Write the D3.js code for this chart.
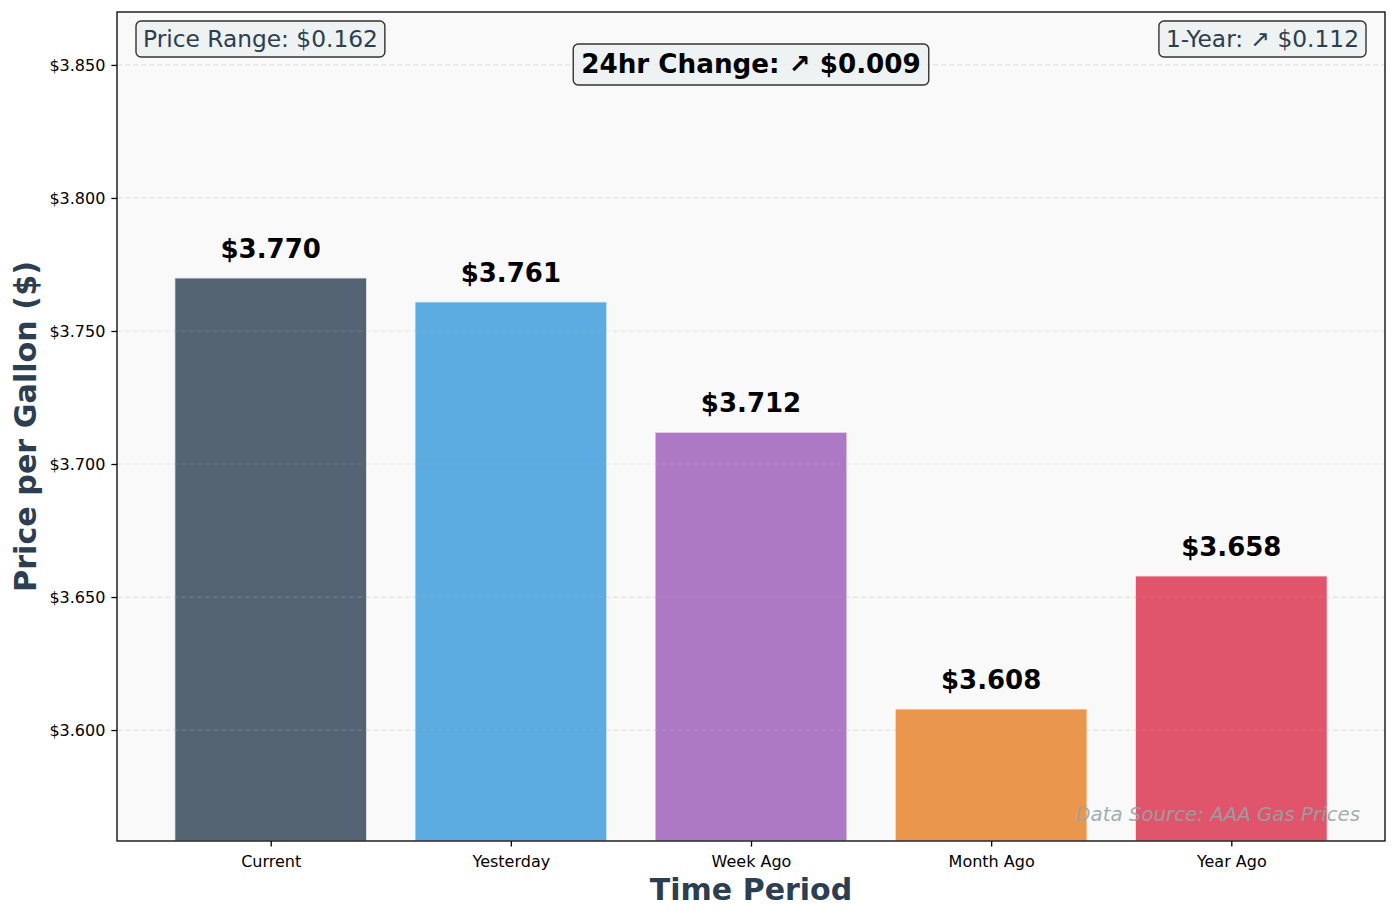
<!DOCTYPE html>
<html>
<head>
<meta charset="utf-8">
<script src="https://cdn.jsdelivr.net/npm/d3@7"></script>
<style>
  body { margin: 0; background: #fff; }
  text { font-family: 'DejaVu Sans', sans-serif; }
</style>
</head>
<body>
<div id="chart"></div>
<script>
const periods = ['Current', 'Yesterday', 'Week Ago', 'Month Ago', 'Year Ago']
const prices = [3.770, 3.761, 3.712, 3.608, 3.658]
const barColors = ['#2c3e50', '#3498db', '#9b59b6', '#e67e22', '#da2a48']
const yTicks = [3.600, 3.650, 3.700, 3.750, 3.800, 3.850]

const width = 1397
const height = 918
const margin = { top: 12, right: 12, bottom: 77, left: 117 }
const plotW = width - margin.left - margin.right
const plotH = height - margin.top - margin.bottom

const svg = d3
  .select('#chart')
  .append('svg')
  .attr('width', width)
  .attr('height', height)

const g = svg.append('g').attr('transform', `translate(${margin.left},${margin.top})`)

// x scale in matplotlib-like bar units
const x = d3.scaleLinear().domain([-0.64, 4.64]).range([0, plotW])
const barW = x(0.4) - x(-0.4)
const y = d3.scaleLinear().domain([3.5583, 3.8699]).range([plotH, 0])

g.append('rect')
  .attr('width', plotW)
  .attr('height', plotH)
  .attr('fill', '#f9f9f9')

// bars
g.selectAll('.bar')
  .data(prices)
  .join('rect')
  .attr('class', 'bar')
  .attr('x', (d, i) => x(i) - barW / 2)
  .attr('y', (d) => y(d))
  .attr('width', barW)
  .attr('height', (d) => plotH - y(d))
  .attr('fill', (d, i) => barColors[i])
  .attr('fill-opacity', 0.8)
  .attr('stroke', '#ffffff')
  .attr('stroke-opacity', 0.7)
  .attr('stroke-width', 1.5)

// grid on top of bars
g.selectAll('.grid')
  .data(yTicks)
  .join('line')
  .attr('class', 'grid')
  .attr('x1', 0)
  .attr('x2', plotW)
  .attr('y1', (d) => y(d))
  .attr('y2', (d) => y(d))
  .attr('stroke', '#b0b0b0')
  .attr('stroke-opacity', 0.3)
  .attr('stroke-dasharray', '5,3')
  .attr('stroke-width', 1.2)

// value labels
g.selectAll('.val')
  .data(prices)
  .join('text')
  .attr('class', 'val')
  .attr('x', (d, i) => x(i))
  .attr('y', (d) => y(d) - 20)
  .attr('text-anchor', 'middle')
  .style('font-size', '26px')
  .style('font-weight', 'bold')
  .attr('fill', '#000')
  .text((d) => `$${d.toFixed(3)}`)

// axes
const xAxis = g
  .append('g')
  .attr('transform', `translate(0,${plotH})`)
  .call(
    d3.axisBottom(x)
      .tickValues(d3.range(periods.length))
      .tickFormat((i) => periods[i])
      .tickSizeOuter(0)
      .tickSize(5.6)
      .tickPadding(9)
  )
const yAxis = g.append('g').call(
  d3.axisLeft(y)
    .tickValues(yTicks)
    .tickFormat((d) => `$${d.toFixed(3)}`)
    .tickSizeOuter(0)
    .tickSize(5.6)
    .tickPadding(6)
)
;[xAxis, yAxis].forEach((a) => {
  a.select('.domain').remove()
  a.selectAll('line').attr('stroke', '#000').attr('stroke-width', 1.3)
  a.selectAll('text')
    .style('font-size', '16px')
    .style('font-family', "'DejaVu Sans', sans-serif")
    .attr('fill', '#000')
})

// frame
g.append('rect')
  .attr('width', plotW)
  .attr('height', plotH)
  .attr('fill', 'none')
  .attr('stroke', '#000')
  .attr('stroke-width', 1.3)

// axis labels
svg.append('text')
  .attr('x', margin.left + plotW / 2)
  .attr('y', 900)
  .attr('text-anchor', 'middle')
  .style('font-size', '30px')
  .style('font-weight', 'bold')
  .attr('fill', '#2c3e50')
  .text('Time Period')

svg.append('text')
  .attr('transform', `translate(36,${margin.top + plotH / 2}) rotate(-90)`)
  .attr('text-anchor', 'middle')
  .style('font-size', '30.2px')
  .style('font-weight', 'bold')
  .attr('fill', '#2c3e50')
  .text('Price per Gallon ($)')

// annotation boxes
function textBox(tx, ty, anchor, label, size, bold, color, pad) {
  const t = g.append('text')
    .attr('x', tx)
    .attr('y', ty)
    .attr('text-anchor', anchor)
    .style('font-size', size + 'px')
    .style('font-weight', bold ? 'bold' : 'normal')
    .attr('fill', color)
    .text(label)
  const b = t.node().getBBox()
  g.insert('rect', () => t.node())
    .attr('x', b.x - pad)
    .attr('y', b.y - pad + 3)
    .attr('width', b.width + pad * 2)
    .attr('height', b.height + pad * 2 - 5)
    .attr('rx', 5)
    .attr('fill', '#ecf0f1')
    .attr('fill-opacity', 0.8)
    .attr('stroke', '#333')
    .attr('stroke-width', 1.4)
}

const rangeVal = d3.max(prices) - d3.min(prices)
const dayChange = prices[0] - prices[1]
const yearChange = prices[0] - prices[4]

textBox(26, 35, 'start', `Price Range: $${rangeVal.toFixed(3)}`, 23.3, false, '#2c3e50', 7)
textBox(plotW - 26, 35, 'end', `1-Year: ↗ $${yearChange.toFixed(3)}`, 23.3, false, '#2c3e50', 7)
textBox(plotW / 2, 61, 'middle', `24hr Change: ↗ $${dayChange.toFixed(3)}`, 26.2, true, '#000', 8)

g.append('text')
  .attr('x', plotW - 25)
  .attr('y', 809)
  .attr('text-anchor', 'end')
  .style('font-size', '19.8px')
  .style('font-style', 'italic')
  .attr('fill', '#95a5a6')
  .attr('fill-opacity', 0.9)
  .text('Data Source: AAA Gas Prices')
</script>
</body>
</html>
